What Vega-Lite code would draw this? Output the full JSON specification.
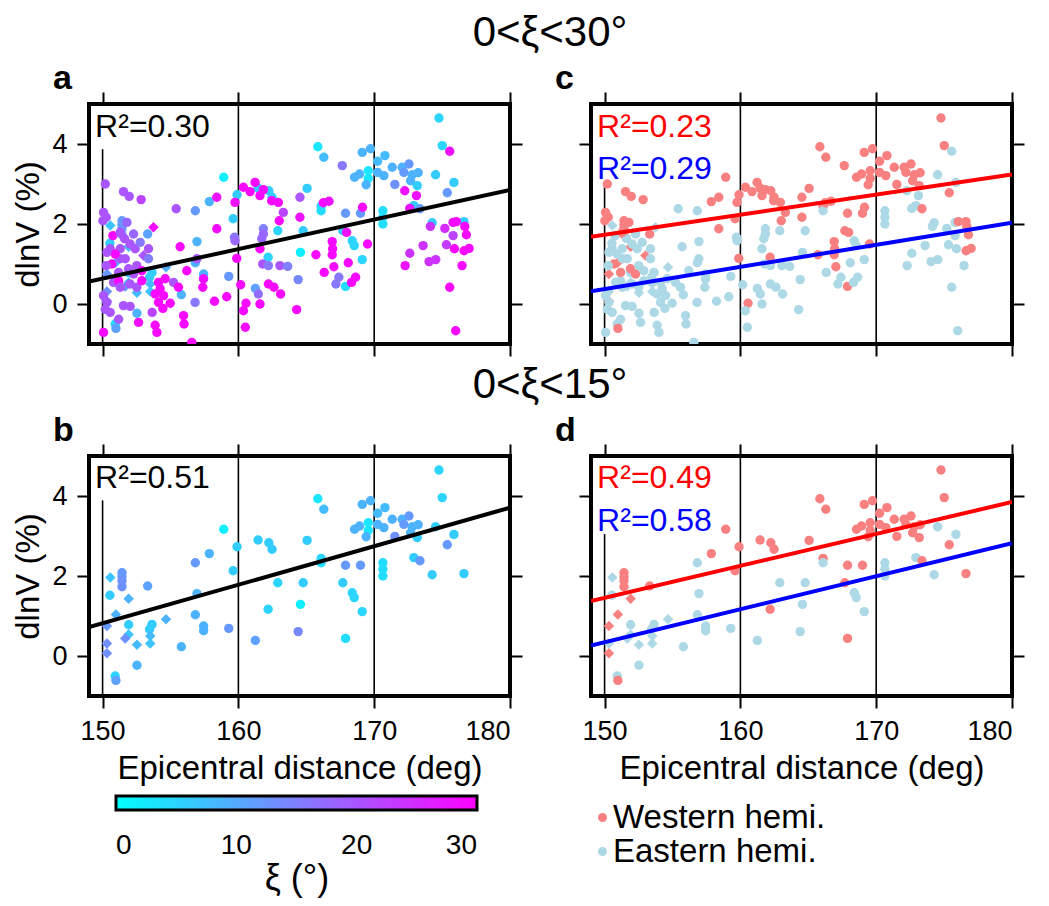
{
"$schema": "https://vega.github.io/schema/vega-lite/v6.json",
"padding": {"left": 10, "top": 12, "right": 5, "bottom": 5},
"background": "white",
"datasets": {
"pts": [
{"d":174.77,"v":4.65,"xi":5,"h":"W","s":"c"},
{"d":175.01,"v":3.96,"xi":5,"h":"W","s":"c"},
{"d":165.85,"v":3.93,"xi":3,"h":"W","s":"c"},
{"d":166.29,"v":3.67,"xi":8,"h":"W","s":"c"},
{"d":169.12,"v":3.79,"xi":9,"h":"W","s":"c"},
{"d":169.73,"v":3.88,"xi":9,"h":"W","s":"c"},
{"d":170.25,"v":3.57,"xi":8,"h":"W","s":"c"},
{"d":170.79,"v":3.71,"xi":8,"h":"W","s":"c"},
{"d":171.33,"v":3.42,"xi":9,"h":"W","s":"c"},
{"d":172.06,"v":3.42,"xi":9,"h":"W","s":"c"},
{"d":172.56,"v":3.50,"xi":12,"h":"W","s":"c"},
{"d":172.19,"v":3.29,"xi":12,"h":"W","s":"c"},
{"d":172.80,"v":3.23,"xi":9,"h":"W","s":"c"},
{"d":173.24,"v":3.28,"xi":9,"h":"W","s":"c"},
{"d":172.68,"v":3.08,"xi":9,"h":"W","s":"c"},
{"d":173.17,"v":2.96,"xi":6,"h":"W","s":"c"},
{"d":171.52,"v":2.99,"xi":13,"h":"W","s":"c"},
{"d":174.52,"v":3.23,"xi":6,"h":"E","s":"c"},
{"d":175.87,"v":3.04,"xi":6,"h":"E","s":"c"},
{"d":175.38,"v":2.78,"xi":12,"h":"W","s":"c"},
{"d":168.55,"v":3.17,"xi":9,"h":"W","s":"c"},
{"d":168.92,"v":3.25,"xi":9,"h":"W","s":"c"},
{"d":169.56,"v":3.33,"xi":3,"h":"W","s":"c"},
{"d":169.56,"v":3.14,"xi":3,"h":"W","s":"c"},
{"d":169.41,"v":2.98,"xi":9,"h":"W","s":"c"},
{"d":170.25,"v":3.29,"xi":9,"h":"W","s":"c"},
{"d":170.71,"v":3.21,"xi":9,"h":"W","s":"c"},
{"d":165.06,"v":2.89,"xi":6,"h":"W","s":"c"},
{"d":158.92,"v":3.17,"xi":2,"h":"W","s":"c"},
{"d":161.45,"v":2.90,"xi":6,"h":"W","s":"c"},
{"d":162.24,"v":2.83,"xi":6,"h":"W","s":"c"},
{"d":162.48,"v":2.67,"xi":6,"h":"W","s":"c"},
{"d":159.90,"v":2.73,"xi":6,"h":"W","s":"c"},
{"d":157.86,"v":2.56,"xi":9,"h":"W","s":"c"},
{"d":156.83,"v":2.33,"xi":12,"h":"E","s":"c"},
{"d":159.61,"v":2.13,"xi":6,"h":"W","s":"c"},
{"d":166.09,"v":2.44,"xi":5,"h":"W","s":"c"},
{"d":166.09,"v":2.33,"xi":4,"h":"E","s":"c"},
{"d":167.89,"v":2.27,"xi":12,"h":"W","s":"c"},
{"d":168.99,"v":2.27,"xi":12,"h":"W","s":"c"},
{"d":170.64,"v":2.33,"xi":4,"h":"E","s":"c"},
{"d":170.64,"v":2.17,"xi":4,"h":"E","s":"c"},
{"d":170.64,"v":2.00,"xi":4,"h":"E","s":"c"},
{"d":172.92,"v":2.46,"xi":6,"h":"E","s":"c"},
{"d":173.37,"v":2.38,"xi":12,"h":"W","s":"c"},
{"d":174.27,"v":2.03,"xi":6,"h":"E","s":"c"},
{"d":176.61,"v":2.06,"xi":6,"h":"W","s":"c"},
{"d":162.90,"v":1.83,"xi":5,"h":"E","s":"c"},
{"d":164.77,"v":1.83,"xi":6,"h":"E","s":"c"},
{"d":167.69,"v":1.83,"xi":6,"h":"W","s":"c"},
{"d":168.38,"v":1.58,"xi":5,"h":"E","s":"c"},
{"d":168.53,"v":1.46,"xi":5,"h":"E","s":"c"},
{"d":164.57,"v":1.29,"xi":2,"h":"E","s":"c"},
{"d":162.19,"v":1.17,"xi":5,"h":"W","s":"c"},
{"d":169.12,"v":1.11,"xi":5,"h":"E","s":"c"},
{"d":156.95,"v":1.56,"xi":9,"h":"E","s":"c"},
{"d":153.32,"v":1.75,"xi":11,"h":"W","s":"c"},
{"d":151.43,"v":2.08,"xi":12,"h":"W","s":"c"},
{"d":151.43,"v":1.98,"xi":12,"h":"W","s":"c"},
{"d":151.43,"v":1.88,"xi":13,"h":"W","s":"c"},
{"d":151.43,"v":1.73,"xi":13,"h":"W","s":"c"},
{"d":150.57,"v":1.96,"xi":7,"h":"E","s":"d"},
{"d":150.54,"v":1.52,"xi":6,"h":"E","s":"c"},
{"d":151.92,"v":1.43,"xi":9,"h":"W","s":"d"},
{"d":150.98,"v":1.04,"xi":9,"h":"W","s":"d"},
{"d":150.32,"v":0.75,"xi":12,"h":"W","s":"d"},
{"d":151.92,"v":0.78,"xi":6,"h":"E","s":"c"},
{"d":151.92,"v":0.54,"xi":7,"h":"E","s":"d"},
{"d":151.67,"v":0.44,"xi":13,"h":"E","s":"d"},
{"d":153.64,"v":0.79,"xi":6,"h":"E","s":"c"},
{"d":153.46,"v":0.67,"xi":6,"h":"E","s":"c"},
{"d":153.51,"v":0.50,"xi":8,"h":"E","s":"d"},
{"d":153.51,"v":0.31,"xi":7,"h":"E","s":"d"},
{"d":154.67,"v":0.92,"xi":9,"h":"E","s":"d"},
{"d":152.53,"v":0.28,"xi":8,"h":"E","s":"d"},
{"d":150.32,"v":0.31,"xi":13,"h":"E","s":"d"},
{"d":150.32,"v":0.07,"xi":13,"h":"W","s":"d"},
{"d":152.53,"v":-0.23,"xi":9,"h":"E","s":"c"},
{"d":150.93,"v":-0.50,"xi":5,"h":"E","s":"c"},
{"d":150.98,"v":-0.61,"xi":11,"h":"W","s":"c"},
{"d":155.80,"v":0.23,"xi":9,"h":"E","s":"c"},
{"d":156.83,"v":1.03,"xi":9,"h":"E","s":"c"},
{"d":157.44,"v":0.75,"xi":9,"h":"E","s":"c"},
{"d":157.44,"v":0.63,"xi":9,"h":"E","s":"c"},
{"d":159.29,"v":0.69,"xi":12,"h":"E","s":"c"},
{"d":161.25,"v":0.39,"xi":11,"h":"E","s":"c"},
{"d":164.40,"v":0.61,"xi":14,"h":"E","s":"c"},
{"d":167.89,"v":0.44,"xi":4,"h":"W","s":"c"},
{"d":175.56,"v":3.82,"xi":28,"h":"E","s":"c"},
{"d":172.25,"v":2.83,"xi":28,"h":"E","s":"c"},
{"d":173.11,"v":2.71,"xi":28,"h":"E","s":"c"},
{"d":172.62,"v":2.39,"xi":28,"h":"E","s":"c"},
{"d":174.14,"v":1.94,"xi":24,"h":"E","s":"c"},
{"d":175.20,"v":1.89,"xi":25,"h":"E","s":"c"},
{"d":175.81,"v":2.04,"xi":29,"h":"E","s":"c"},
{"d":176.05,"v":2.06,"xi":29,"h":"W","s":"c"},
{"d":176.67,"v":1.94,"xi":29,"h":"W","s":"c"},
{"d":175.81,"v":1.71,"xi":22,"h":"E","s":"c"},
{"d":176.79,"v":1.73,"xi":29,"h":"W","s":"c"},
{"d":175.32,"v":1.48,"xi":23,"h":"E","s":"c"},
{"d":175.91,"v":1.38,"xi":29,"h":"E","s":"c"},
{"d":176.62,"v":1.33,"xi":29,"h":"W","s":"c"},
{"d":176.99,"v":1.39,"xi":29,"h":"W","s":"c"},
{"d":173.60,"v":1.46,"xi":24,"h":"E","s":"c"},
{"d":172.62,"v":1.27,"xi":24,"h":"E","s":"c"},
{"d":172.28,"v":0.96,"xi":28,"h":"E","s":"c"},
{"d":174.04,"v":1.06,"xi":24,"h":"E","s":"c"},
{"d":174.53,"v":1.11,"xi":24,"h":"E","s":"c"},
{"d":176.47,"v":0.96,"xi":29,"h":"E","s":"c"},
{"d":175.56,"v":0.42,"xi":29,"h":"E","s":"c"},
{"d":176.00,"v":-0.67,"xi":29,"h":"E","s":"c"},
{"d":164.53,"v":2.67,"xi":20,"h":"W","s":"c"},
{"d":164.53,"v":2.17,"xi":28,"h":"W","s":"c"},
{"d":166.25,"v":2.53,"xi":29,"h":"W","s":"c"},
{"d":166.67,"v":2.57,"xi":28,"h":"W","s":"c"},
{"d":169.14,"v":2.42,"xi":29,"h":"W","s":"c"},
{"d":167.97,"v":1.79,"xi":28,"h":"W","s":"c"},
{"d":166.91,"v":1.56,"xi":29,"h":"W","s":"c"},
{"d":166.94,"v":1.38,"xi":29,"h":"W","s":"c"},
{"d":166.91,"v":1.23,"xi":29,"h":"W","s":"c"},
{"d":165.71,"v":1.23,"xi":29,"h":"W","s":"c"},
{"d":169.51,"v":1.50,"xi":29,"h":"W","s":"c"},
{"d":168.09,"v":1.03,"xi":29,"h":"E","s":"c"},
{"d":167.03,"v":0.93,"xi":29,"h":"W","s":"c"},
{"d":166.32,"v":0.79,"xi":29,"h":"E","s":"c"},
{"d":167.40,"v":0.67,"xi":16,"h":"E","s":"c"},
{"d":167.18,"v":0.50,"xi":16,"h":"E","s":"c"},
{"d":168.33,"v":0.54,"xi":29,"h":"E","s":"c"},
{"d":168.63,"v":0.67,"xi":29,"h":"E","s":"c"},
{"d":164.29,"v":-0.14,"xi":29,"h":"E","s":"c"},
{"d":167.65,"v":3.46,"xi":16,"h":"W","s":"c"},
{"d":150.20,"v":3.00,"xi":20,"h":"W","s":"c"},
{"d":151.54,"v":2.81,"xi":20,"h":"W","s":"c"},
{"d":151.96,"v":2.69,"xi":20,"h":"W","s":"c"},
{"d":152.84,"v":2.61,"xi":22,"h":"W","s":"c"},
{"d":155.42,"v":2.38,"xi":20,"h":"E","s":"c"},
{"d":158.41,"v":2.67,"xi":28,"h":"W","s":"c"},
{"d":159.75,"v":2.54,"xi":28,"h":"W","s":"c"},
{"d":160.37,"v":2.92,"xi":29,"h":"W","s":"c"},
{"d":161.23,"v":3.04,"xi":29,"h":"W","s":"c"},
{"d":160.86,"v":2.81,"xi":29,"h":"W","s":"c"},
{"d":161.59,"v":2.71,"xi":29,"h":"W","s":"c"},
{"d":161.84,"v":2.86,"xi":29,"h":"W","s":"c"},
{"d":162.45,"v":2.58,"xi":29,"h":"W","s":"c"},
{"d":162.94,"v":2.54,"xi":29,"h":"W","s":"c"},
{"d":163.31,"v":2.29,"xi":22,"h":"W","s":"c"},
{"d":163.01,"v":2.08,"xi":29,"h":"W","s":"c"},
{"d":159.71,"v":1.67,"xi":16,"h":"E","s":"c"},
{"d":159.75,"v":1.58,"xi":18,"h":"E","s":"c"},
{"d":158.41,"v":1.88,"xi":29,"h":"W","s":"c"},
{"d":155.71,"v":1.43,"xi":29,"h":"E","s":"c"},
{"d":156.20,"v":0.83,"xi":29,"h":"E","s":"c"},
{"d":156.94,"v":1.13,"xi":20,"h":"E","s":"c"},
{"d":157.43,"v":0.63,"xi":29,"h":"E","s":"c"},
{"d":157.38,"v":0.42,"xi":29,"h":"E","s":"c"},
{"d":156.81,"v":0.04,"xi":16,"h":"E","s":"c"},
{"d":158.24,"v":0.07,"xi":29,"h":"E","s":"c"},
{"d":159.14,"v":0.18,"xi":29,"h":"E","s":"c"},
{"d":160.17,"v":0.48,"xi":29,"h":"E","s":"c"},
{"d":160.56,"v":0.02,"xi":29,"h":"W","s":"c"},
{"d":160.37,"v":-0.17,"xi":29,"h":"E","s":"c"},
{"d":160.51,"v":-0.58,"xi":29,"h":"E","s":"c"},
{"d":161.47,"v":0.25,"xi":17,"h":"E","s":"c"},
{"d":161.59,"v":0.00,"xi":29,"h":"E","s":"c"},
{"d":162.21,"v":0.50,"xi":29,"h":"E","s":"c"},
{"d":162.62,"v":0.42,"xi":29,"h":"E","s":"c"},
{"d":163.11,"v":0.25,"xi":29,"h":"E","s":"c"},
{"d":161.84,"v":1.88,"xi":15,"h":"E","s":"c"},
{"d":161.84,"v":1.75,"xi":18,"h":"E","s":"c"},
{"d":161.72,"v":1.63,"xi":18,"h":"E","s":"c"},
{"d":161.59,"v":1.38,"xi":29,"h":"E","s":"c"},
{"d":161.79,"v":1.00,"xi":20,"h":"E","s":"c"},
{"d":162.21,"v":0.96,"xi":16,"h":"E","s":"c"},
{"d":163.06,"v":0.96,"xi":20,"h":"E","s":"c"},
{"d":163.63,"v":0.94,"xi":15,"h":"E","s":"c"},
{"d":150.07,"v":2.29,"xi":20,"h":"W","s":"c"},
{"d":150.27,"v":2.17,"xi":20,"h":"W","s":"c"},
{"d":150.02,"v":2.08,"xi":20,"h":"W","s":"c"},
{"d":150.76,"v":1.71,"xi":29,"h":"E","s":"c"},
{"d":151.62,"v":1.63,"xi":20,"h":"E","s":"c"},
{"d":152.03,"v":1.50,"xi":20,"h":"E","s":"c"},
{"d":152.40,"v":1.38,"xi":20,"h":"E","s":"c"},
{"d":152.77,"v":1.54,"xi":16,"h":"E","s":"c"},
{"d":153.75,"v":1.92,"xi":29,"h":"E","s":"d"},
{"d":153.01,"v":1.21,"xi":20,"h":"W","s":"d"},
{"d":153.38,"v":1.13,"xi":15,"h":"E","s":"c"},
{"d":151.30,"v":1.13,"xi":20,"h":"E","s":"c"},
{"d":150.69,"v":1.00,"xi":29,"h":"W","s":"c"},
{"d":150.27,"v":0.96,"xi":20,"h":"E","s":"c"},
{"d":151.91,"v":0.88,"xi":20,"h":"W","s":"c"},
{"d":152.28,"v":0.75,"xi":20,"h":"W","s":"c"},
{"d":150.81,"v":0.54,"xi":20,"h":"E","s":"c"},
{"d":151.18,"v":0.58,"xi":29,"h":"E","s":"c"},
{"d":151.30,"v":0.42,"xi":20,"h":"E","s":"c"},
{"d":152.03,"v":0.50,"xi":20,"h":"E","s":"c"},
{"d":152.52,"v":0.42,"xi":20,"h":"E","s":"c"},
{"d":152.89,"v":0.58,"xi":29,"h":"E","s":"c"},
{"d":154.12,"v":0.54,"xi":29,"h":"E","s":"c"},
{"d":154.24,"v":0.38,"xi":29,"h":"E","s":"c"},
{"d":154.49,"v":0.21,"xi":29,"h":"E","s":"c"},
{"d":153.87,"v":0.25,"xi":29,"h":"E","s":"c"},
{"d":154.61,"v":0.63,"xi":29,"h":"E","s":"c"},
{"d":155.22,"v":0.54,"xi":20,"h":"E","s":"c"},
{"d":154.12,"v":0.04,"xi":29,"h":"E","s":"c"},
{"d":154.44,"v":-0.11,"xi":29,"h":"E","s":"c"},
{"d":153.65,"v":-0.21,"xi":22,"h":"E","s":"c"},
{"d":151.54,"v":-0.04,"xi":20,"h":"E","s":"c"},
{"d":152.03,"v":-0.06,"xi":20,"h":"E","s":"c"},
{"d":150.07,"v":0.21,"xi":20,"h":"E","s":"c"},
{"d":150.32,"v":0.04,"xi":20,"h":"E","s":"c"},
{"d":150.20,"v":-0.13,"xi":20,"h":"E","s":"c"},
{"d":150.56,"v":-0.21,"xi":20,"h":"E","s":"c"},
{"d":151.18,"v":-0.38,"xi":20,"h":"E","s":"c"},
{"d":150.07,"v":-0.71,"xi":29,"h":"E","s":"c"},
{"d":152.65,"v":-0.46,"xi":29,"h":"E","s":"c"},
{"d":153.87,"v":-0.53,"xi":29,"h":"E","s":"c"},
{"d":154.00,"v":-0.71,"xi":29,"h":"E","s":"c"},
{"d":155.96,"v":-0.29,"xi":29,"h":"E","s":"c"},
{"d":156.00,"v":-0.50,"xi":29,"h":"E","s":"c"},
{"d":156.57,"v":-0.96,"xi":29,"h":"E","s":"c"},
{"d":154.98,"v":0.02,"xi":29,"h":"E","s":"c"},
{"d":151.30,"v":1.79,"xi":20,"h":"W","s":"c"},
{"d":151.79,"v":2.04,"xi":18,"h":"W","s":"c"},
{"d":150.56,"v":1.38,"xi":20,"h":"E","s":"c"},
{"d":151.30,"v":1.38,"xi":20,"h":"E","s":"c"},
{"d":150.93,"v":1.25,"xi":29,"h":"E","s":"c"},
{"d":151.67,"v":1.13,"xi":20,"h":"E","s":"c"},
{"d":152.52,"v":0.96,"xi":20,"h":"E","s":"c"},
{"d":152.89,"v":0.83,"xi":29,"h":"E","s":"c"},
{"d":151.18,"v":0.79,"xi":20,"h":"W","s":"c"},
{"d":150.32,"v":1.29,"xi":20,"h":"E","s":"c"},
{"d":153.38,"v":1.38,"xi":20,"h":"E","s":"c"},
{"d":152.28,"v":1.75,"xi":18,"h":"E","s":"c"},
{"d":155.59,"v":0.42,"xi":29,"h":"E","s":"c"},
{"d":159.88,"v":1.14,"xi":29,"h":"W","s":"c"}
]
},
"vconcat": [
{
"title": {"text": "0<ξ<30°", "fontSize": 42, "fontWeight": "normal", "anchor": "middle", "offset": 5, "dx": 31},
"spacing": 28,
"hconcat": [
{
"width": 421, "height": 240,
"title": {"text": "a", "anchor": "start", "frame": "group", "dx": -36, "fontSize": 34, "fontWeight": "bold", "offset": -5},
"layer": [
{"data": {"values": [{"d":150,"lo":-1,"hi":3.87},{"d":160,"lo":-1,"hi":5},{"d":170,"lo":-1,"hi":5}]},
 "mark": {"type": "rule", "color": "black", "strokeWidth": 1.6},
 "encoding": {
  "x": {"field": "d", "type": "quantitative", "scale": {"domain": [149, 180], "nice": false, "zero": false}, "axis": {"orient": "top", "values": [150,160,170,180], "labels": false, "title": null}},
  "y": {"field": "lo", "type": "quantitative", "scale": {"domain": [-1, 5], "nice": false, "zero": false}, "axis": {"orient": "right", "values": [0,2,4], "labels": false, "title": null}},
  "y2": {"field": "hi"}}},
{"data": {"name": "pts"},
 "mark": {"type": "point", "filled": true, "opacity": 1, "clip": true},
 "encoding": {
  "x": {"field": "d", "type": "quantitative", "scale": {"domain": [149, 180], "nice": false, "zero": false}, "axis": {"orient": "bottom", "values": [150,160,170,180], "labels": false, "title": null}},
  "y": {"field": "v", "type": "quantitative", "scale": {"domain": [-1, 5], "nice": false, "zero": false}, "axis": {"orient": "left", "values": [0,2,4], "labelPadding": 10, "title": "dlnV (%)", "titlePadding": 6}},
  "color": {"field": "xi", "type": "quantitative", "scale": {"domain": [0, 30], "range": ["#00ffff", "#ff00ff"], "interpolate": "rgb"},
   "legend": {"orient": "none", "legendX": 27, "legendY": 692, "direction": "horizontal", "gradientLength": 361, "gradientThickness": 14, "values": [0,10,20,30], "title": "ξ (°)", "titleOrient": "bottom", "titleAnchor": "middle", "titleFontSize": 36, "labelFontSize": 28, "labelAlign": "center",
    "encode": {"labels": {"align": {"value": "center"}}}}},
  "shape": {"field": "s", "type": "nominal", "scale": {"domain": ["c","d"], "range": ["circle","diamond"]}, "legend": null},
  "size": {"field": "s", "type": "nominal", "scale": {"domain": ["c","d"], "range": [88, 110]}, "legend": null}}},
{"data": {"values": [{"d":149,"v":0.56},{"d":180,"v":2.85}]},
 "mark": {"type": "line", "color": "black", "strokeWidth": 4, "clip": true},
 "encoding": {"x": {"field": "d", "type": "quantitative", "scale": {"domain": [149, 180]}, "axis": null}, "y": {"field": "v", "type": "quantitative", "scale": {"domain": [-1, 5]}, "axis": null}}},
{"data": {"values": [{"d":149.45,"v":4.17,"t":"R²=0.30"}]},
 "mark": {"type": "text", "align": "left", "baseline": "alphabetic", "fontSize": 32, "color": "black"},
 "encoding": {"x": {"field": "d", "type": "quantitative", "scale": {"domain": [149, 180]}, "axis": null}, "y": {"field": "v", "type": "quantitative", "scale": {"domain": [-1, 5]}, "axis": null}, "text": {"field": "t"}}}
],
"resolve": {"axis": {"x": "independent", "y": "independent"}}
},
{
"width": 421, "height": 240,
"title": {"text": "c", "anchor": "start", "frame": "group", "dx": -36, "fontSize": 34, "fontWeight": "bold", "offset": -5},
"layer": [
{"data": {"values": [{"d":150,"lo":-1,"hi":3.05},{"d":160,"lo":-1,"hi":5},{"d":170,"lo":-1,"hi":5}]},
 "mark": {"type": "rule", "color": "black", "strokeWidth": 1.6},
 "encoding": {
  "x": {"field": "d", "type": "quantitative", "scale": {"domain": [149, 180], "nice": false, "zero": false}, "axis": {"orient": "top", "values": [150,160,170,180], "labels": false, "title": null}},
  "y": {"field": "lo", "type": "quantitative", "scale": {"domain": [-1, 5], "nice": false, "zero": false}, "axis": {"orient": "right", "values": [0,2,4], "labels": false, "title": null}},
  "y2": {"field": "hi"}}},
{"data": {"name": "pts"},
 "mark": {"type": "point", "filled": true, "opacity": 1, "clip": true},
 "encoding": {
  "x": {"field": "d", "type": "quantitative", "scale": {"domain": [149, 180], "nice": false, "zero": false}, "axis": {"orient": "bottom", "values": [150,160,170,180], "labels": false, "title": null}},
  "y": {"field": "v", "type": "quantitative", "scale": {"domain": [-1, 5], "nice": false, "zero": false}, "axis": {"orient": "left", "values": [0,2,4], "labels": false, "title": null}},
  "fill": {"field": "h", "type": "nominal", "scale": {"domain": ["W","E"], "range": ["#f88080", "#add8e6"]},
   "legend": {"orient": "none", "legendX": 497, "legendY": 697, "title": null, "labelExpr": "datum.label == 'W' ? 'Western hemi.' : 'Eastern hemi.'", "symbolType": "circle", "labelFontSize": 33, "labelOffset": -6, "rowPadding": -4}},
  "shape": {"field": "s", "type": "nominal", "scale": {"domain": ["c","d"], "range": ["circle","diamond"]}, "legend": null},
  "size": {"field": "s", "type": "nominal", "scale": {"domain": ["c","d"], "range": [88, 110]}, "legend": null}}},
{"data": {"values": [{"d":149,"v":1.68},{"d":180,"v":3.24}]},
 "mark": {"type": "line", "color": "#ff0000", "strokeWidth": 4, "clip": true},
 "encoding": {"x": {"field": "d", "type": "quantitative", "scale": {"domain": [149, 180]}, "axis": null}, "y": {"field": "v", "type": "quantitative", "scale": {"domain": [-1, 5]}, "axis": null}}},
{"data": {"values": [{"d":149,"v":0.32},{"d":180,"v":2.03}]},
 "mark": {"type": "line", "color": "#0000ff", "strokeWidth": 4, "clip": true},
 "encoding": {"x": {"field": "d", "type": "quantitative", "scale": {"domain": [149, 180]}, "axis": null}, "y": {"field": "v", "type": "quantitative", "scale": {"domain": [-1, 5]}, "axis": null}}},
{"data": {"values": [{"d":149.45,"v":4.17,"t":"R²=0.23"}]},
 "mark": {"type": "text", "align": "left", "baseline": "alphabetic", "fontSize": 32, "color": "#ff0000"},
 "encoding": {"x": {"field": "d", "type": "quantitative", "scale": {"domain": [149, 180]}, "axis": null}, "y": {"field": "v", "type": "quantitative", "scale": {"domain": [-1, 5]}, "axis": null}, "text": {"field": "t"}}},
{"data": {"values": [{"d":149.45,"v":3.12,"t":"R²=0.29"}]},
 "mark": {"type": "text", "align": "left", "baseline": "alphabetic", "fontSize": 32, "color": "#0000ff"},
 "encoding": {"x": {"field": "d", "type": "quantitative", "scale": {"domain": [149, 180]}, "axis": null}, "y": {"field": "v", "type": "quantitative", "scale": {"domain": [-1, 5]}, "axis": null}, "text": {"field": "t"}}}
],
"resolve": {"axis": {"x": "independent", "y": "independent"}}
}
]
},
{
"title": {"text": "0<ξ<15°", "fontSize": 42, "fontWeight": "normal", "anchor": "middle", "offset": 5, "dx": 31},
"spacing": 28,
"hconcat": [
{
"width": 421, "height": 240,
"title": {"text": "b", "anchor": "start", "frame": "group", "dx": -36, "fontSize": 34, "fontWeight": "bold", "offset": -5},
"layer": [
{"data": {"values": [{"d":150,"lo":-1,"hi":3.89},{"d":160,"lo":-1,"hi":5},{"d":170,"lo":-1,"hi":5}]},
 "mark": {"type": "rule", "color": "black", "strokeWidth": 1.6},
 "encoding": {
  "x": {"field": "d", "type": "quantitative", "scale": {"domain": [149, 180], "nice": false, "zero": false}, "axis": {"orient": "top", "values": [150,160,170,180], "labels": false, "title": null}},
  "y": {"field": "lo", "type": "quantitative", "scale": {"domain": [-1, 5], "nice": false, "zero": false}, "axis": {"orient": "right", "values": [0,2,4], "labels": false, "title": null}},
  "y2": {"field": "hi"}}},
{"data": {"name": "pts"},
 "transform": [{"filter": "datum.xi < 15"}],
 "mark": {"type": "point", "filled": true, "opacity": 1, "clip": true},
 "encoding": {
  "x": {"field": "d", "type": "quantitative", "scale": {"domain": [149, 180], "nice": false, "zero": false}, "axis": {"orient": "bottom", "values": [150,160,170,180], "labelPadding": 10, "title": "Epicentral distance (deg)", "titlePadding": 8}},
  "y": {"field": "v", "type": "quantitative", "scale": {"domain": [-1, 5], "nice": false, "zero": false}, "axis": {"orient": "left", "values": [0,2,4], "labelPadding": 10, "title": "dlnV (%)", "titlePadding": 6}},
  "color": {"field": "xi", "type": "quantitative", "scale": {"domain": [0, 30], "range": ["#00ffff", "#ff00ff"], "interpolate": "rgb"},
   "legend": {"orient": "none", "legendX": 27, "legendY": 692, "direction": "horizontal", "gradientLength": 361, "gradientThickness": 14, "values": [0,10,20,30], "title": "ξ (°)", "titleOrient": "bottom", "titleAnchor": "middle", "titleFontSize": 36, "labelFontSize": 28, "labelAlign": "center",
    "encode": {"labels": {"align": {"value": "center"}}}}},
  "shape": {"field": "s", "type": "nominal", "scale": {"domain": ["c","d"], "range": ["circle","diamond"]}, "legend": null},
  "size": {"field": "s", "type": "nominal", "scale": {"domain": ["c","d"], "range": [88, 110]}, "legend": null}}},
{"data": {"values": [{"d":149,"v":0.72},{"d":180,"v":3.71}]},
 "mark": {"type": "line", "color": "black", "strokeWidth": 4, "clip": true},
 "encoding": {"x": {"field": "d", "type": "quantitative", "scale": {"domain": [149, 180]}, "axis": null}, "y": {"field": "v", "type": "quantitative", "scale": {"domain": [-1, 5]}, "axis": null}}},
{"data": {"values": [{"d":149.45,"v":4.19,"t":"R²=0.51"}]},
 "mark": {"type": "text", "align": "left", "baseline": "alphabetic", "fontSize": 32, "color": "black"},
 "encoding": {"x": {"field": "d", "type": "quantitative", "scale": {"domain": [149, 180]}, "axis": null}, "y": {"field": "v", "type": "quantitative", "scale": {"domain": [-1, 5]}, "axis": null}, "text": {"field": "t"}}}
],
"resolve": {"axis": {"x": "independent", "y": "independent"}}
},
{
"width": 421, "height": 240,
"title": {"text": "d", "anchor": "start", "frame": "group", "dx": -36, "fontSize": 34, "fontWeight": "bold", "offset": -5},
"layer": [
{"data": {"values": [{"d":150,"lo":-1,"hi":3.05},{"d":160,"lo":-1,"hi":5},{"d":170,"lo":-1,"hi":5}]},
 "mark": {"type": "rule", "color": "black", "strokeWidth": 1.6},
 "encoding": {
  "x": {"field": "d", "type": "quantitative", "scale": {"domain": [149, 180], "nice": false, "zero": false}, "axis": {"orient": "top", "values": [150,160,170,180], "labels": false, "title": null}},
  "y": {"field": "lo", "type": "quantitative", "scale": {"domain": [-1, 5], "nice": false, "zero": false}, "axis": {"orient": "right", "values": [0,2,4], "labels": false, "title": null}},
  "y2": {"field": "hi"}}},
{"data": {"name": "pts"},
 "transform": [{"filter": "datum.xi < 15"}],
 "mark": {"type": "point", "filled": true, "opacity": 1, "clip": true},
 "encoding": {
  "x": {"field": "d", "type": "quantitative", "scale": {"domain": [149, 180], "nice": false, "zero": false}, "axis": {"orient": "bottom", "values": [150,160,170,180], "labelPadding": 10, "title": "Epicentral distance (deg)", "titlePadding": 8}},
  "y": {"field": "v", "type": "quantitative", "scale": {"domain": [-1, 5], "nice": false, "zero": false}, "axis": {"orient": "left", "values": [0,2,4], "labels": false, "title": null}},
  "fill": {"field": "h", "type": "nominal", "scale": {"domain": ["W","E"], "range": ["#f88080", "#add8e6"]},
   "legend": {"orient": "none", "legendX": 497, "legendY": 697, "title": null, "labelExpr": "datum.label == 'W' ? 'Western hemi.' : 'Eastern hemi.'", "symbolType": "circle", "labelFontSize": 33, "labelOffset": -6, "rowPadding": -4}},
  "shape": {"field": "s", "type": "nominal", "scale": {"domain": ["c","d"], "range": ["circle","diamond"]}, "legend": null},
  "size": {"field": "s", "type": "nominal", "scale": {"domain": ["c","d"], "range": [88, 110]}, "legend": null}}},
{"data": {"values": [{"d":149,"v":1.375},{"d":180,"v":3.85}]},
 "mark": {"type": "line", "color": "#ff0000", "strokeWidth": 4, "clip": true},
 "encoding": {"x": {"field": "d", "type": "quantitative", "scale": {"domain": [149, 180]}, "axis": null}, "y": {"field": "v", "type": "quantitative", "scale": {"domain": [-1, 5]}, "axis": null}}},
{"data": {"values": [{"d":149,"v":0.26},{"d":180,"v":2.82}]},
 "mark": {"type": "line", "color": "#0000ff", "strokeWidth": 4, "clip": true},
 "encoding": {"x": {"field": "d", "type": "quantitative", "scale": {"domain": [149, 180]}, "axis": null}, "y": {"field": "v", "type": "quantitative", "scale": {"domain": [-1, 5]}, "axis": null}}},
{"data": {"values": [{"d":149.45,"v":4.19,"t":"R²=0.49"}]},
 "mark": {"type": "text", "align": "left", "baseline": "alphabetic", "fontSize": 32, "color": "#ff0000"},
 "encoding": {"x": {"field": "d", "type": "quantitative", "scale": {"domain": [149, 180]}, "axis": null}, "y": {"field": "v", "type": "quantitative", "scale": {"domain": [-1, 5]}, "axis": null}, "text": {"field": "t"}}},
{"data": {"values": [{"d":149.45,"v":3.12,"t":"R²=0.58"}]},
 "mark": {"type": "text", "align": "left", "baseline": "alphabetic", "fontSize": 32, "color": "#0000ff"},
 "encoding": {"x": {"field": "d", "type": "quantitative", "scale": {"domain": [149, 180]}, "axis": null}, "y": {"field": "v", "type": "quantitative", "scale": {"domain": [-1, 5]}, "axis": null}, "text": {"field": "t"}}}
],
"resolve": {"axis": {"x": "independent", "y": "independent"}}
}
]
}
],
"spacing": 5,
"config": {
 "font": "Liberation Sans",
 "view": {"stroke": "black", "strokeWidth": 4},
 "axis": {"domain": false, "grid": false, "ticks": true, "tickColor": "black", "tickWidth": 2, "tickSize": 12, "labelColor": "black", "labelFontSize": 27, "labelFont": "Liberation Sans", "titleFont": "Liberation Sans", "titleFontSize": 33, "titleFontWeight": "normal", "titleColor": "black"},
 "title": {"color": "black", "font": "Liberation Sans"},
 "legend": {"labelColor": "black", "titleColor": "black", "labelFont": "Liberation Sans", "titleFont": "Liberation Sans", "labelFontSize": 30, "labelLimit": 400, "titleFontSize": 36, "titleFontWeight": "normal", "titlePadding": 2, "labelOffset": 6, "gradientLabelOffset": 22, "gradientStrokeColor": "black", "gradientStrokeWidth": 3, "symbolSize": 80, "symbolStrokeWidth": 0, "rowPadding": 0, "padding": 0}
}
}
